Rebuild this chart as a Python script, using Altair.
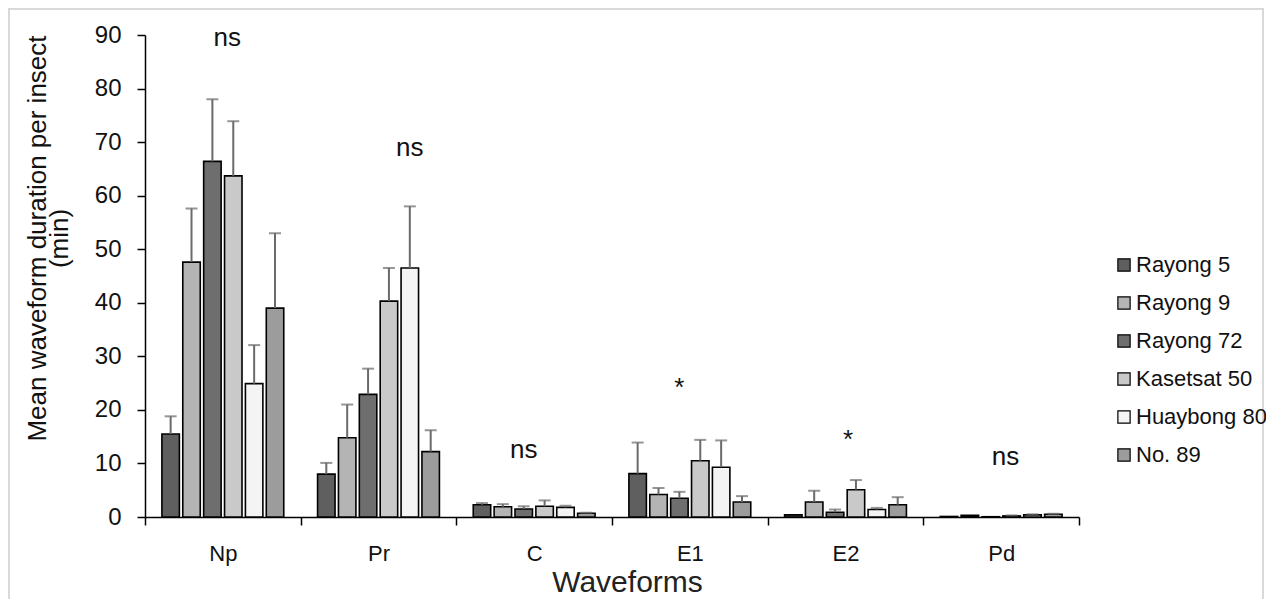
import altair as alt
import pandas as pd

# ---------------- data ----------------
waveforms = ["Np", "Pr", "C", "E1", "E2", "Pd"]
cultivars = ["Rayong 5", "Rayong 9", "Rayong 72", "Kasetsat 50", "Huaybong 80", "No. 89"]

mean_r5 = [15.5, 8.0, 2.3, 8.1, 0.4, 0.1]
mean_r9 = [47.6, 14.8, 1.9, 4.2, 2.8, 0.3]
mean_r72 = [66.4, 22.9, 1.5, 3.5, 0.9, 0.05]
mean_k50 = [63.7, 40.3, 2.0, 10.5, 5.1, 0.2]
mean_h80 = [24.9, 46.5, 1.8, 9.3, 1.4, 0.4]
mean_n89 = [39.0, 12.2, 0.7, 2.8, 2.3, 0.5]

se_r5 = [3.3, 2.1, 0.3, 5.8, 0.0, 0.0]
se_r9 = [10.0, 6.2, 0.5, 1.2, 2.1, 0.0]
se_r72 = [11.6, 4.8, 0.5, 1.2, 0.5, 0.0]
se_k50 = [10.2, 6.2, 1.1, 3.9, 1.8, 0.1]
se_h80 = [7.2, 11.5, 0.3, 5.0, 0.3, 0.1]
se_n89 = [14.0, 4.0, 0.1, 1.1, 1.4, 0.1]

ann_wave = ["Np", "Pr", "C", "E1", "E2", "Pd"]
ann_label = ["ns", "ns", "ns", "*", "*", "ns"]
ann_value = [89.4, 68.9, 12.5, 24.0, 14.4, 11.2]
ann_anchor = ["Kasetsat 50", "Huaybong 80", "Rayong 72", "Rayong 72", "Kasetsat 50", "Kasetsat 50"]

# ---------------- table ----------------
means = [mean_r5, mean_r9, mean_r72, mean_k50, mean_h80, mean_n89]
ses = [se_r5, se_r9, se_r72, se_k50, se_h80, se_n89]
rows = []
for c, m, s in zip(cultivars, means, ses):
    for w, mv, sv in zip(waveforms, m, s):
        rows.append({"waveform": w, "cultivar": c, "mean": mv, "upper": mv + sv, "se": sv})
df = pd.DataFrame(rows)

ann = pd.DataFrame({"waveform": ann_wave, "label": ann_label,
                    "value": ann_value, "cultivar": ann_anchor})

# ---------------- styling ----------------
FONT = "Liberation Sans"
W, H = 934, 482
PAD = {"left": 137, "top": 27, "right": 187, "bottom": 82}
fills = ["#5f5f5f", "#b4b4b4", "#6e6e6e", "#c9c9c9", "#f4f4f4", "#9c9c9c"]

x_enc = alt.X(
    "waveform:N", sort=waveforms,
    scale=alt.Scale(domain=waveforms, paddingInner=0, paddingOuter=0),
    axis=alt.Axis(title="Waveforms", tickBand="extent", labelAngle=0,
                  labelFontSize=22, labelColor="#111", labelPadding=18,
                  tickSize=8, tickColor="#000", tickWidth=1.5,
                  domainColor="#000", domainWidth=1.5,
                  titleFontSize=30, titleFontWeight="normal", titleColor="#222",
                  titlePadding=3, titleX=482, labelFont=FONT, titleFont=FONT),
)
xo_enc = alt.XOffset(
    "cultivar:N", sort=cultivars,
    scale=alt.Scale(domain=cultivars, paddingInner=0.163, paddingOuter=0.81),
)
y_scale = alt.Scale(domain=[0, 90], nice=False, zero=True)
y_axis = alt.Axis(values=list(range(0, 91, 10)), grid=False,
                  title=["Mean waveform duration per insect", "(min)"],
                  titleFontSize=26, titleLineHeight=22, titleFontWeight="normal",
                  titleColor="#111", titlePadding=22, titleY=203,
                  labelFontSize=24, labelColor="#111",
                  labelPadding=16, tickSize=8, tickColor="#000", tickWidth=1.5,
                  domainColor="#000", domainWidth=1.5,
                  labelFont=FONT, titleFont=FONT)

base = alt.Chart(df)

bars = base.mark_bar(stroke="#000", strokeWidth=1.6).encode(
    x=x_enc, xOffset=xo_enc,
    y=alt.Y("mean:Q", scale=y_scale, axis=y_axis),
    fill=alt.Fill("cultivar:N", sort=cultivars,
                  scale=alt.Scale(domain=cultivars, range=fills),
                  legend=alt.Legend(orient="none", legendX=968, legendY=219,
                                    title=None, symbolType="square", symbolSize=150,
                                    symbolStrokeColor="#000", symbolStrokeWidth=1.2,
                                    labelFontSize=22, labelFont=FONT, labelColor="#111",
                                    rowPadding=16, labelOffset=1,
                                    labelExpr="datum.label == 'No. 89' ? '\u00a0No. 89' : datum.label")),
)

err = base.transform_filter("datum.se > 0").mark_rule(color="#6a6a6a", strokeWidth=2).encode(
    x=alt.X("waveform:N", sort=waveforms), xOffset=alt.XOffset("cultivar:N", sort=cultivars),
    y=alt.Y("mean:Q"), y2=alt.Y2("upper:Q"),
)
caps = base.transform_filter("datum.se > 0").mark_tick(color="#6a6a6a", thickness=2, size=12).encode(
    x=alt.X("waveform:N", sort=waveforms), xOffset=alt.XOffset("cultivar:N", sort=cultivars),
    y=alt.Y("upper:Q"),
)

dxs = [-6, 0, 0, 0, -8, -6]
ann_layers = []
for i in range(len(ann_wave)):
    ann_layers.append(
        alt.Chart(ann.iloc[[i]]).mark_text(fontSize=26, font=FONT, color="#111",
                                           baseline="middle", dx=dxs[i]).encode(
            x=alt.X("waveform:N", sort=waveforms),
            xOffset=alt.XOffset("cultivar:N", sort=cultivars),
            y=alt.Y("value:Q"),
            text="label:N",
        )
    )

frame = alt.Chart(pd.DataFrame({"k": [0]})).mark_rect(
    fillOpacity=0, stroke="#d9d9d9", strokeWidth=2
).encode(x=alt.value(-136), x2=alt.value(W + 184), y=alt.value(-26), y2=alt.value(H + 120))

chart = alt.layer(frame, bars, err, caps, *ann_layers).properties(
    width=W, height=H, autosize="none", padding=PAD, background="white"
).configure_view(stroke=None)

chart.save("out.html", embed_options={"renderer": "svg", "actions": False})
